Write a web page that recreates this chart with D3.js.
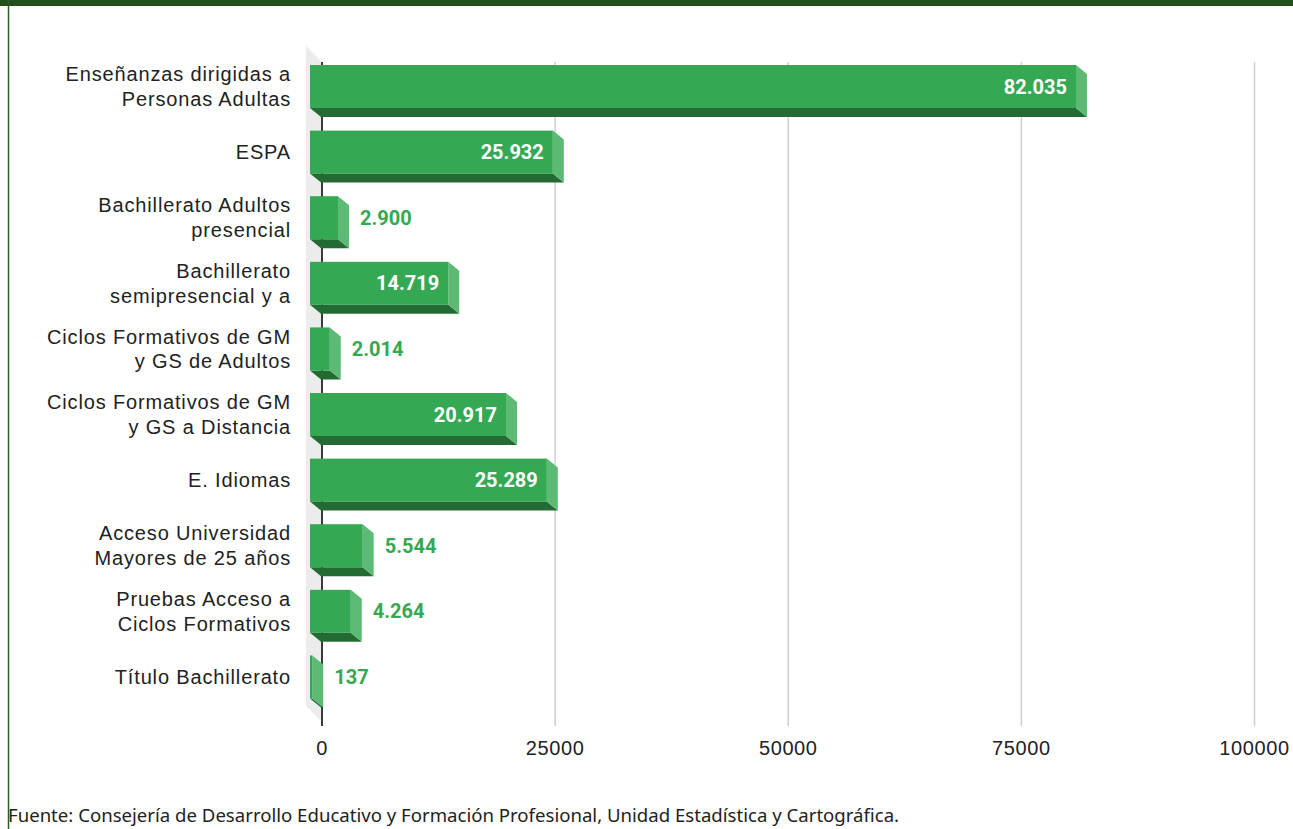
<!DOCTYPE html>
<html>
<head>
<meta charset="utf-8">
<script src="https://cdn.jsdelivr.net/npm/d3@7"></script>
<style>
  html, body { margin: 0; padding: 0; background: #fff; }
  svg { display: block; }
</style>
</head>
<body>
<svg id="chart" width="1293" height="829"></svg>
<script>
// Alumnado por enseñanza
const categories = [
  "Enseñanzas dirigidas a\nPersonas Adultas",
  "ESPA",
  "Bachillerato Adultos\npresencial",
  "Bachillerato\nsemipresencial y a",
  "Ciclos Formativos de GM\ny GS de Adultos",
  "Ciclos Formativos de GM\ny GS a Distancia",
  "E. Idiomas",
  "Acceso Universidad\nMayores de 25 años",
  "Pruebas Acceso a\nCiclos Formativos",
  "Título Bachillerato"
];
const values = [82035, 25932, 2900, 14719, 2014, 20917, 25289, 5544, 4264, 137];
const xTicks = [0, 25000, 50000, 75000, 100000];
const sourceNote = "Fuente: Consejería de Desarrollo Educativo y Formación Profesional, Unidad Estadística y Cartográfica.";

const svg = d3.select("#chart");
const W = 1293, H = 829;

const green = "#34a853", greenDark = "#236b33", greenSide = "#5dba74";
const depthX = 11, depthY = 9;

const x = d3.scaleLinear().domain([0, 100000]).range([322, 1254.5]);
const y = d3.scaleBand().domain(categories).range([53.7, 709.7])
  .paddingInner(0.345).paddingOuter(0.1725);

const gridTop = 62, gridBottom = 726;

// header band and frame line
svg.append("rect").attr("x", 0).attr("y", 0).attr("width", W).attr("height", 6).attr("fill", "#22501a");
svg.append("line").attr("x1", 8.5).attr("x2", 8.5).attr("y1", 0).attr("y2", H)
  .attr("stroke", "#2e5c20").attr("stroke-width", 1.5);

// side wall of the 3D plot
const x0 = x(0);
svg.append("path")
  .attr("d", `M${x0 - 16},46 L${x0},${gridTop} L${x0},${gridBottom - 4} L${x0 - 16},${gridBottom - 20} Z`)
  .attr("fill", "#ececec");

// vertical gridlines
svg.append("g").selectAll("line").data(xTicks.slice(1)).join("line")
  .attr("x1", d => x(d)).attr("x2", d => x(d))
  .attr("y1", gridTop).attr("y2", gridBottom)
  .attr("stroke", "#cfcfcf").attr("stroke-width", 1.5);

// zero axis
svg.append("line").attr("x1", x0).attr("x2", x0).attr("y1", gridTop).attr("y2", gridBottom)
  .attr("stroke", "#3a3a3a").attr("stroke-width", 2);

// tick labels
svg.append("g").selectAll("text").data(xTicks).join("text")
  .attr("x", d => x(d)).attr("y", 755)
  .attr("text-anchor", "middle")
  .attr("font-family", "Liberation Sans, Arial, sans-serif")
  .attr("font-size", 20).attr("letter-spacing", 0.6)
  .attr("fill", "#222")
  .text(d => d);

// 3D bars: back face at the value, front face offset up-left
const bars = svg.append("g").selectAll("g").data(values.map((v, i) => ({v, c: categories[i]}))).join("g");
bars.each(function(d) {
  const g = d3.select(this);
  const bx0 = x(0) - 1, bx1 = x(d.v);
  const fy0 = y(d.c), fy1 = y(d.c) + y.bandwidth();
  const fx0 = bx0 - depthX, fx1 = bx1 - depthX;
  // bottom face
  g.append("path")
    .attr("d", `M${fx0},${fy1} L${fx1},${fy1} L${bx1},${fy1 + depthY} L${bx0},${fy1 + depthY} Z`)
    .attr("fill", greenDark);
  // right face
  g.append("path")
    .attr("d", `M${fx1},${fy0} L${bx1},${fy0 + depthY} L${bx1},${fy1 + depthY} L${fx1},${fy1} Z`)
    .attr("fill", greenSide);
  // front face
  g.append("rect").attr("x", fx0).attr("y", fy0)
    .attr("width", Math.max(0, fx1 - fx0)).attr("height", fy1 - fy0)
    .attr("fill", green);
});

// value labels
const fmt = v => d3.format(",")(v).replace(/,/g, ".");
bars.append("text")
  .attr("x", d => d.v > 10000 ? x(d.v) - depthX - 9 : x(d.v) + 11)
  .attr("y", d => y(d.c) + y.bandwidth() / 2 + 7)
  .attr("text-anchor", d => d.v > 10000 ? "end" : "start")
  .attr("font-family", "Roboto, sans-serif")
  .attr("font-weight", "bold").attr("font-size", 20)
  .attr("fill", d => d.v > 10000 ? "#ffffff" : green)
  .text(d => fmt(d.v));

// category labels
const labels = svg.append("g").selectAll("text").data(categories).join("text")
  .attr("text-anchor", "end")
  .attr("font-family", "Liberation Sans, Arial, sans-serif")
  .attr("font-size", 20).attr("letter-spacing", 0.85)
  .attr("fill", "#222");
labels.each(function(c) {
  const lines = c.split("\n");
  const cy = y(c) + y.bandwidth() / 2;
  const t = d3.select(this);
  lines.forEach((ln, i) => {
    t.append("tspan").attr("x", 291)
      .attr("y", cy + 7 + (i - (lines.length - 1) / 2) * 24.5)
      .text(ln);
  });
});

// source note
svg.append("text").attr("x", 8).attr("y", 822)
  .attr("font-family", "Noto Sans, Open Sans, sans-serif")
  .attr("font-size", 18.6).attr("fill", "#222")
  .text(sourceNote);
</script>
</body>
</html>
